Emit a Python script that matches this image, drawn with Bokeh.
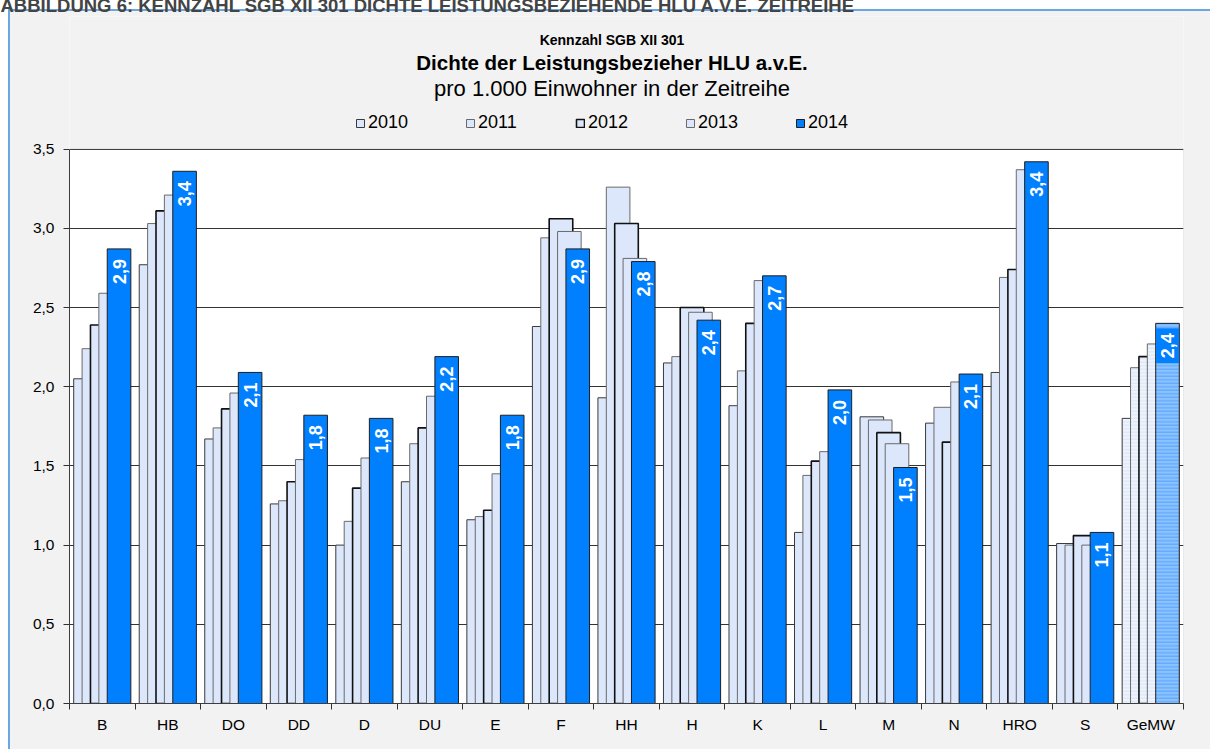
import math
from bokeh.plotting import figure
from bokeh.models import (Range1d, FixedTicker, ColumnDataSource, Title, Legend, Label,
                          LegendItem, CustomJSTickFormatter, BoxAnnotation)
from bokeh.embed import file_html
from bokeh.resources import INLINE
from bokeh.core.properties import value

# ---------------- data ----------------
categories = ["B", "HB", "DO", "DD", "D", "DU", "E", "F", "HH", "H", "K", "L", "M", "N", "HRO", "S", "GeMW"]
years = ["2010", "2011", "2012", "2013", "2014"]
v2010 = [2.05, 2.77, 1.67, 1.26, 1.00, 1.40, 1.16, 2.38, 1.93, 2.15, 1.88, 1.08, 1.81, 1.77, 2.09, 1.01, 1.80]
v2011 = [2.24, 3.03, 1.74, 1.28, 1.15, 1.64, 1.18, 2.94, 3.26, 2.19, 2.10, 1.44, 1.79, 1.87, 2.69, 1.00, 2.12]
v2012 = [2.39, 3.11, 1.86, 1.40, 1.36, 1.74, 1.22, 3.06, 3.03, 2.50, 2.40, 1.53, 1.71, 1.65, 2.74, 1.06, 2.19]
v2013 = [2.59, 3.21, 1.96, 1.54, 1.55, 1.94, 1.45, 2.98, 2.81, 2.47, 2.67, 1.59, 1.64, 2.03, 3.37, 1.00, 2.27]
v2014 = [2.87, 3.36, 2.09, 1.82, 1.80, 2.19, 1.82, 2.87, 2.79, 2.42, 2.70, 1.98, 1.49, 2.08, 3.42, 1.08, 2.40]
series = [v2010, v2011, v2012, v2013, v2014]
y_ticks = [0.0, 0.5, 1.0, 1.5, 2.0, 2.5, 3.0, 3.5]
Y_MAX = 3.5

title1 = "Kennzahl SGB XII 301"
title2 = "Dichte der Leistungsbezieher HLU a.v.E."
title3 = "pro 1.000 Einwohner in der Zeitreihe"
header = "ABBILDUNG 6: KENNZAHL SGB XII 301 DICHTE LEISTUNGSBEZIEHENDE HLU A.V.E. ZEITREIHE"

# ---------------- layout (page pixels) ----------------
FONT = "Liberation Sans"
SHIFT = 8                      # figure is pulled 8px up/left over the page margin
W, H = 1210 + SHIFT, 749 + SHIFT
F_LEFT, F_RIGHT, F_TOP, F_BOTTOM = 69, 1183, 14, 703   # frame in page px
AXIS_TOP = 147                                           # page y of 3.5
px_per_unit = (F_BOTTOM - AXIS_TOP) / Y_MAX
y_end = (F_BOTTOM - F_TOP) / px_per_unit
n = len(categories)
px_per_cat = (F_RIGHT - F_LEFT) / n


def page_to_data(xp, yp):
    return (xp - F_LEFT) / px_per_cat, (F_BOTTOM - yp) / px_per_unit


LIGHT = "#dce7fb"
BLUE = "#0080ff"
AVG_LIGHT = "#eef3fd"
AVG_BLUE = "#8cc3ff"
PANEL = "#f2f2f2"
line_cols = ["#3a3a3a", "#6a6a6a", "#111111", "#6a6a6a", "#1e1e1e"]
line_ws = [1, 1, 1.6, 1, 1]
offsets = [-0.256, -0.128, 0.0, 0.128, 0.256]
BAR_W = 0.36

p = figure(width=W, height=H, x_range=Range1d(0, n), y_range=Range1d(0, y_end),
           output_backend="svg", toolbar_location=None, title=None,
           min_border_left=F_LEFT + SHIFT, min_border_right=W - (F_RIGHT + SHIFT),
           min_border_top=F_TOP + SHIFT, min_border_bottom=H - (F_BOTTOM + SHIFT))
p.margin = (-SHIFT, 0, 0, -SHIFT)
p.border_fill_color = None
p.background_fill_color = "white"
p.outline_line_color = None
bx, by = 8 + SHIFT, 9 + SHIFT
p.styles = {"background": (f"linear-gradient(#6aa6e2,#6aa6e2) {bx}px {by}px / {W}px 2px no-repeat, "
                           f"linear-gradient(#6aa6e2,#6aa6e2) {bx}px {by}px / 2px {H}px no-repeat, "
                           f"linear-gradient({PANEL},{PANEL}) {bx}px {by}px / {W}px {H}px no-repeat, #ffffff")}

# grey band above the value axis inside the frame, plot-area outline
p.add_layout(BoxAnnotation(bottom=Y_MAX, fill_color=PANEL, fill_alpha=1, line_color=None,
                           level="underlay"))
p.add_layout(BoxAnnotation(left=0, right=n, bottom=0, top=Y_MAX, fill_color=None,
                           line_color="#8c8c8c", line_width=1))

# axes
p.yaxis.ticker = FixedTicker(ticks=y_ticks)
p.yaxis.formatter = CustomJSTickFormatter(code="return tick.toFixed(1).replace('.', ',');")
p.yaxis.bounds = (0, Y_MAX)
p.yaxis.major_tick_in = 0
p.yaxis.major_tick_out = 6
p.yaxis.minor_tick_line_color = None
p.yaxis.major_label_standoff = 9
p.xaxis.ticker = FixedTicker(ticks=[i + 0.5 for i in range(n)], minor_ticks=list(range(n + 1)))
p.xaxis.formatter = CustomJSTickFormatter(args=dict(cats=categories),
                                          code="return cats[Math.floor(tick)] || '';")
p.xaxis.minor_tick_in = 0
p.xaxis.minor_tick_out = 6
p.xaxis.minor_tick_line_color = "#303030"
p.xaxis.major_label_standoff = 6
for ax in (p.xaxis, p.yaxis):
    ax.axis_line_color = "#303030"
    ax.major_label_text_font = FONT
    ax.major_label_text_font_size = "15.5px"
    ax.major_label_text_color = "black"
p.yaxis.major_tick_line_color = "#303030"
p.xaxis.major_tick_line_color = None
p.xgrid.grid_line_color = None
p.ygrid.ticker = FixedTicker(ticks=y_ticks)
p.ygrid.grid_line_color = "#333333"

# bars
bar_renderers = []
for i, vals in enumerate(series):
    last = i == len(series) - 1
    base = BLUE if last else LIGHT
    avg = AVG_BLUE if last else AVG_LIGHT
    hcol = "#5fa9ff" if last else "#dfe8f8"
    src = ColumnDataSource(dict(
        x=[j + 0.5 + offsets[i] for j in range(n)],
        top=vals,
        fill=[avg if c == "GeMW" else base for c in categories],
        hatch=["horizontal_line" if c == "GeMW" else "blank" for c in categories],
    ))
    r = p.vbar(x="x", top="top", bottom=0, width=BAR_W, source=src,
               fill_color="fill", line_color=line_cols[i], line_width=line_ws[i],
               hatch_pattern="hatch", hatch_color=hcol, hatch_scale=3.5, hatch_weight=1.3)
    bar_renderers.append(r)

# data labels
labels = [f"{v:.1f}".replace(".", ",") for v in v2014]
lx = [j + 0.5 + offsets[4] for j in range(n)]
lab_src = ColumnDataSource(dict(x=lx[:-1], y=v2014[:-1], t=labels[:-1]))
p.text(x="x", y="y", text="t", source=lab_src, angle=math.pi / 2, text_align="right",
       text_baseline="middle", y_offset=10, text_color="white", text_font=value(FONT),
       text_font_style="bold", text_font_size="18px")
avg_src = ColumnDataSource(dict(x=lx[-1:], y=v2014[-1:], t=labels[-1:]))
p.text(x="x", y="y", text="t", source=avg_src, angle=math.pi / 2, text_align="right",
       text_baseline="middle", y_offset=5, text_color="white", text_font=value(FONT),
       text_font_style="bold", text_font_size="18px", background_fill_color=BLUE,
       padding=5)

# titles (inside the grey band of the frame)
for txt, ypage, style, size in [(title1, 38, "bold", "14px"), (title2, 60, "bold", "20.5px"),
                                (title3, 86, "normal", "22px")]:
    tx, ty = page_to_data(611.5, ypage)
    p.add_layout(Label(x=tx, y=ty, text=txt, text_align="center", text_baseline="middle",
                       text_font=FONT, text_font_style=style, text_font_size=size,
                       text_color="black"))

# legend (uses the first bar of every series as its swatch)
items = [LegendItem(label=yr, renderers=[bar_renderers[i]], index=0) for i, yr in enumerate(years)]
leg = Legend(items=items, orientation="horizontal",
             location=(355 - F_LEFT, F_BOTTOM - 133),
             glyph_width=10, glyph_height=10, label_standoff=3, label_width=87, spacing=10,
             padding=0, margin=0, border_line_color=None, background_fill_alpha=0,
             label_text_font=FONT, label_text_font_size="18px", label_height=20,
             label_text_color="black")
p.add_layout(leg)

# page header, cut by the top edge
p.add_layout(Title(text=header, align="left", text_font=FONT, text_font_size="18.5px",
                   text_font_style="bold", standoff=1, offset=-F_LEFT), "above")

open("out.html", "w").write(file_html(p, INLINE))
